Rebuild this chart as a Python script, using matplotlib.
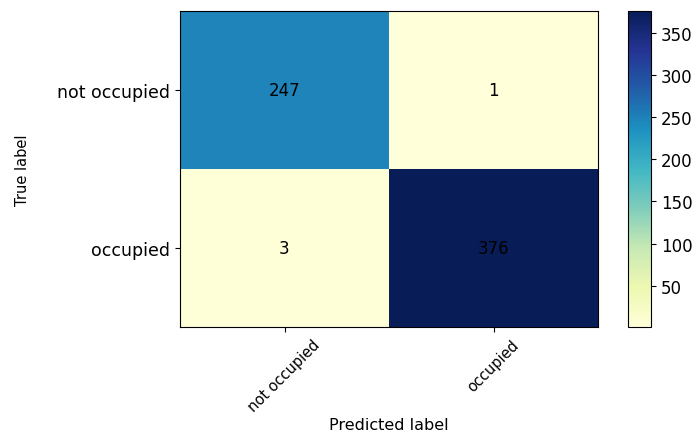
import matplotlib
matplotlib.use("Agg")
import matplotlib.pyplot as plt
import numpy as np

classes = ["not occupied", "occupied"]
cm_row_not_occupied = [247, 1]
cm_row_occupied = [3, 376]
cm = np.array([cm_row_not_occupied, cm_row_occupied])

fig = plt.figure(figsize=(6.98, 4.35), dpi=100)
ax = fig.add_axes([180/698, 1 - 328/435, (598-180)/698, (328-12)/435])
cax = fig.add_axes([628/698, 1 - 328/435, (651-628)/698, (328-12)/435])

im = ax.imshow(cm, interpolation="nearest", cmap="YlGnBu", aspect="auto")
cb = fig.colorbar(im, cax=cax)
cb.set_ticks([50, 100, 150, 200, 250, 300, 350])
cb.ax.tick_params(labelsize=12)

ax.set_xticks(range(len(classes)))
ax.set_xticklabels(classes, rotation=45, fontsize=10.5)
ax.set_yticks(range(len(classes)))
ax.set_yticklabels(classes, fontsize=12.5)
for i in range(cm.shape[0]):
    for j in range(cm.shape[1]):
        ax.text(j, i, str(cm[i, j]), ha="center", va="center", color="black", fontsize=12)
ax.set_ylabel("True label", fontsize=10.5)
ax.yaxis.set_label_coords(-0.36, 0.5)
ax.set_xlabel("Predicted label", fontsize=11.5)
ax.xaxis.set_label_coords(0.5, -0.285)

fig.savefig("out.png", dpi=100)
